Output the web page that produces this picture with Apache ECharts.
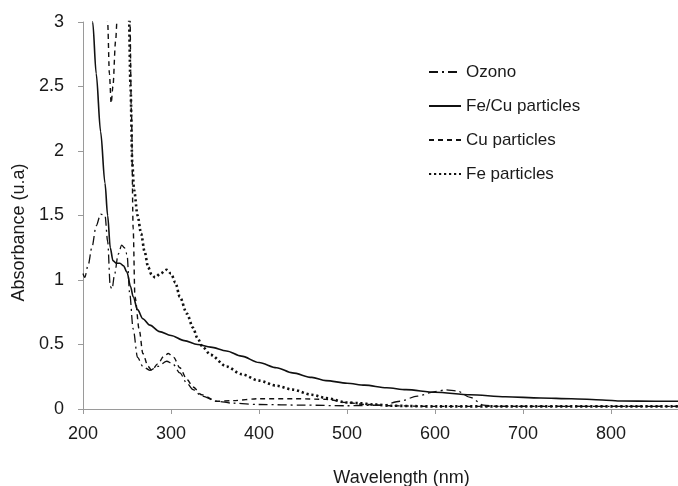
<!DOCTYPE html>
<html>
<head>
<meta charset="utf-8">
<title>Absorbance spectra</title>
<script src="https://cdn.jsdelivr.net/npm/echarts@6/dist/echarts.min.js"></script>
<style>
  html, body { margin: 0; padding: 0; background: #fff; }
  #chart { width: 678px; height: 486px; }
</style>
</head>
<body>
<div id="chart"></div>
<script>
'use strict';

// 数据：波长 (nm) 与吸光度
var seriesNames = ['Ozono', 'Fe/Cu particles', 'Cu particles', 'Fe particles'];
var xTicks = [200, 300, 400, 500, 600, 700, 800];
var yTicks = [0, 0.5, 1, 1.5, 2, 2.5, 3];

var ozonoWl  = [200, 202, 206, 210, 215, 220, 225, 228, 231, 233, 236, 240, 244, 247, 250, 253, 257, 262, 268, 276, 285, 295, 302, 310, 318, 325, 335, 352, 370, 400, 450, 500, 540, 560, 580, 600, 612, 625, 640, 655, 670, 876];
var ozonoAbs = [1.05, 1.02, 1.12, 1.25, 1.42, 1.51, 1.50, 1.30, 0.95, 0.93, 1.05, 1.20, 1.27, 1.25, 1.20, 0.90, 0.62, 0.40, 0.33, 0.30, 0.33, 0.37, 0.35, 0.28, 0.20, 0.15, 0.10, 0.06, 0.045, 0.035, 0.03, 0.025, 0.03, 0.06, 0.10, 0.135, 0.148, 0.14, 0.09, 0.03, 0.02, 0.02];

var fecuWl  = [200, 205, 211, 215, 220, 225, 228, 231, 234, 238, 242, 246, 250, 254, 257, 262, 268, 276, 287, 300, 315, 330, 345, 363, 380, 400, 420, 438, 460, 476, 500, 520, 545, 567, 600, 640, 680, 720, 755, 790, 812, 850, 876];
var fecuAbs = [3.9, 3.5, 3.0, 2.6, 2.15, 1.75, 1.5, 1.25, 1.15, 1.13, 1.13, 1.11, 1.06, 0.95, 0.87, 0.77, 0.70, 0.65, 0.60, 0.57, 0.53, 0.50, 0.48, 0.45, 0.41, 0.36, 0.32, 0.28, 0.245, 0.22, 0.20, 0.185, 0.165, 0.15, 0.13, 0.11, 0.095, 0.085, 0.08, 0.07, 0.062, 0.06, 0.06];

var cuWl  = [220, 226, 228, 230, 232, 234, 237, 239, 242, 250, 253, 255, 257, 259, 264, 268, 274, 278, 285, 292, 297, 303, 310, 318, 325, 335, 352, 370, 400, 440, 476, 500, 520, 550, 600, 876];
var cuAbs = [3.6, 3.3, 3.0, 2.6, 2.37, 2.5, 2.85, 3.05, 3.3, 3.4, 3.2, 2.3, 1.4, 0.87, 0.61, 0.43, 0.33, 0.30, 0.35, 0.41, 0.43, 0.40, 0.32, 0.23, 0.17, 0.11, 0.06, 0.065, 0.08, 0.08, 0.075, 0.05, 0.035, 0.025, 0.02, 0.02];

var feWl  = [250, 252, 254, 256, 258, 262, 266, 270, 274, 278, 282, 288, 295, 300, 305, 310, 318, 325, 330, 336, 345, 363, 380, 400, 420, 438, 460, 476, 500, 514, 530, 550, 600, 700, 876];
var feAbs = [3.6, 3.1, 2.5, 1.9, 1.7, 1.5, 1.36, 1.22, 1.1, 1.04, 1.02, 1.05, 1.08, 1.05, 0.98, 0.87, 0.74, 0.63, 0.55, 0.48, 0.42, 0.33, 0.27, 0.22, 0.18, 0.15, 0.11, 0.085, 0.05, 0.045, 0.035, 0.025, 0.02, 0.02, 0.02];

var pairs = function (xs, ys) {
    return xs.map(function (x, i) {
        return [x, ys[i]];
    });
};

var chart = echarts.init(document.getElementById('chart'), null, { renderer: 'canvas' });

var textColor = '#1a1a1a';
var axisColor = '#9a9a9a';
var fontFamily = '"Liberation Sans", Arial, sans-serif';

var makeLine = function (name, data, type, width) {
    return {
        name: name,
        type: 'line',
        data: data,
        symbol: 'none',
        smooth: 0.3,
        smoothMonotone: 'x',
        clip: true,
        lineStyle: { color: '#111', width: width, type: type },
        itemStyle: { color: '#111' }
    };
};

var option = {
    animation: false,
    backgroundColor: '#fff',
    textStyle: { fontFamily: fontFamily, color: textColor },
    grid: { left: 83, right: 0, top: 22, bottom: 77, containLabel: false, outerBoundsMode: 'none' },
    legend: {
        orient: 'vertical',
        left: 423,
        top: 57,
        itemWidth: 32,
        itemHeight: 14,
        itemGap: 14,
        itemStyle: { opacity: 0 },
        textStyle: { fontSize: 17, color: textColor, fontFamily: fontFamily, lineHeight: 20 },
        data: seriesNames
    },
    xAxis: {
        type: 'value',
        min: 200,
        max: 876,
        interval: 100,
        name: 'Wavelength (nm)',
        nameLocation: 'middle',
        nameGap: 60,
        nameTextStyle: { fontSize: 18, color: textColor, padding: [0, 0, 0, 42] },
        axisLine: { show: true, lineStyle: { color: axisColor, width: 1 } },
        axisTick: { show: true, length: 5, lineStyle: { color: axisColor } },
        axisLabel: { fontSize: 18, color: textColor, margin: 16, showMaxLabel: false,
            formatter: function (v) { return xTicks.indexOf(v) >= 0 ? String(v) : ''; } },
        splitLine: { show: false }
    },
    yAxis: {
        type: 'value',
        min: 0,
        max: 3,
        interval: 0.5,
        name: 'Absorbance (u.a)',
        nameLocation: 'middle',
        nameGap: 48,
        nameTextStyle: { fontSize: 18, color: textColor, padding: [0, 34, 0, 0] },
        axisLine: { show: true, lineStyle: { color: axisColor, width: 1 } },
        axisTick: { show: true, length: 5, lineStyle: { color: axisColor } },
        axisLabel: { fontSize: 18, color: textColor, margin: 19,
            formatter: function (v) { return yTicks.indexOf(v) >= 0 ? String(v) : ''; } },
        splitLine: { show: false }
    },
    series: [
        makeLine(seriesNames[0], pairs(ozonoWl, ozonoAbs), [9, 4, 2, 4], 1.3),
        makeLine(seriesNames[1], pairs(fecuWl, fecuAbs), 'solid', 1.6),
        makeLine(seriesNames[2], pairs(cuWl, cuAbs), [5, 4], 1.4),
        makeLine(seriesNames[3], pairs(feWl, feAbs), [2.2, 2.8], 2.6)
    ]
};

chart.setOption(option);
</script>
</body>
</html>
